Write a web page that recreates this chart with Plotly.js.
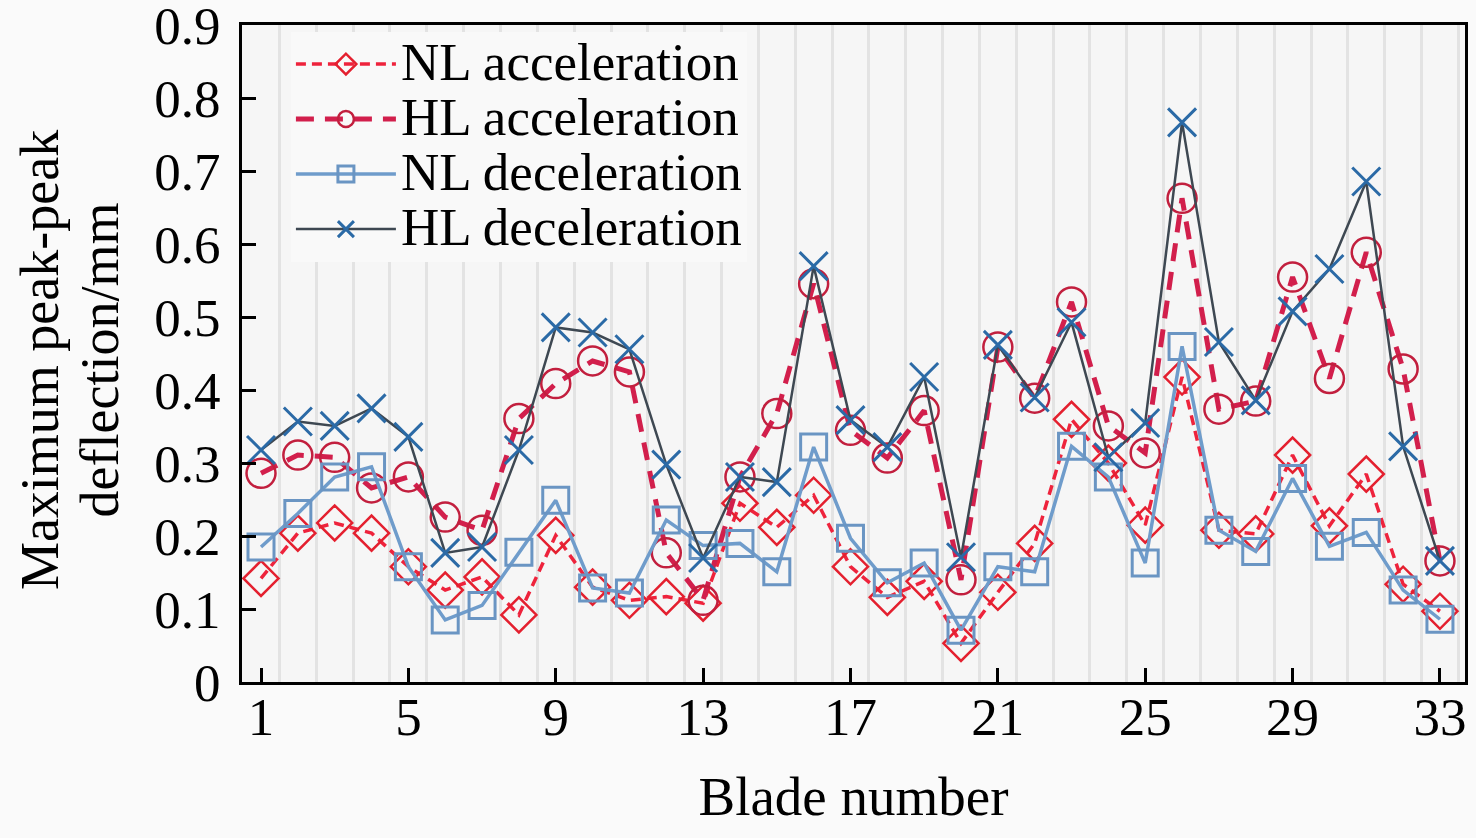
<!DOCTYPE html>
<html>
<head>
<meta charset="utf-8">
<script src="https://cdn.plot.ly/plotly-3.0.1.min.js"></script>
<style>
html,body{margin:0;padding:0;background:#fafafa;}
#chart{width:1476px;height:838px;}
</style>
</head>
<body>
<div id="chart"></div>
<script>
const blades = Array.from({length:33}, (_, i) => i + 1);
const xTickVals = [1,5,9,13,17,21,25,29,33];
const yTickVals = [0,0.1,0.2,0.3,0.4,0.5,0.6,0.7,0.8,0.9];
const yTickText = ['0','0.1','0.2','0.3','0.4','0.5','0.6','0.7','0.8','0.9'];
const seriesNames = ['NL acceleration','HL acceleration','NL deceleration','HL deceleration'];
const yTitleLines = ['Maximum peak-peak','deflection/mm'];
const xTitle = 'Blade number';

const nlAcceleration = [0.142,0.204,0.218,0.204,0.158,0.126,0.144,0.092,0.201,0.130,
                        0.112,0.117,0.108,0.245,0.212,0.256,0.158,0.116,0.138,0.053,
                        0.123,0.190,0.360,0.300,0.215,0.418,0.208,0.203,0.311,0.214,
                        0.285,0.134,0.097];
const hlAcceleration = [0.286,0.311,0.308,0.266,0.281,0.226,0.208,0.361,0.409,0.440,
                        0.425,0.177,0.112,0.281,0.368,0.546,0.345,0.307,0.372,0.140,
                        0.459,0.389,0.521,0.351,0.314,0.663,0.374,0.385,0.555,0.416,
                        0.589,0.429,0.166];
const nlDeceleration = [0.185,0.231,0.281,0.295,0.158,0.085,0.105,0.178,0.249,0.129,
                        0.122,0.222,0.187,0.190,0.151,0.322,0.197,0.136,0.163,0.071,
                        0.158,0.151,0.323,0.281,0.163,0.460,0.208,0.179,0.279,0.186,
                        0.205,0.126,0.086];
const hlDeceleration = [0.318,0.357,0.351,0.375,0.336,0.177,0.185,0.318,0.486,0.479,
                        0.456,0.298,0.170,0.281,0.274,0.570,0.359,0.322,0.418,0.171,
                        0.462,0.390,0.493,0.308,0.355,0.767,0.466,0.386,0.508,0.566,
                        0.686,0.323,0.166];

const FONT = 'Liberation Serif, Times New Roman, serif';
const big = (t, px) => '<span style="font-size:' + px + 'px">' + t + '</span>';

const traces = [
  {
    x: blades, y: nlAcceleration, name: big(seriesNames[0], 53), type: 'scatter', mode: 'lines+markers',
    line: {color: '#ee233c', width: 3.5, dash: '10px,6px'},
    marker: {symbol: 'diamond-open', size: 27, color: '#e4202f', line: {color: '#e4202f', width: 2.5}}
  },
  {
    x: blades, y: hlAcceleration, name: big(seriesNames[1], 53), type: 'scatter', mode: 'lines+markers',
    line: {color: '#d21f4c', width: 5, dash: '18px,11px'},
    marker: {symbol: 'circle-open', size: 29, color: '#c21f3e', line: {color: '#c21f3e', width: 2.5}}
  },
  {
    x: blades, y: nlDeceleration, name: big(seriesNames[2], 53), type: 'scatter', mode: 'lines+markers',
    line: {color: '#6f9ccb', width: 3.5},
    marker: {symbol: 'square-open', size: 26, color: '#6a95c3', line: {color: '#6a95c3', width: 3}}
  },
  {
    x: blades, y: hlDeceleration, name: big(seriesNames[3], 53), type: 'scatter', mode: 'lines+markers',
    line: {color: '#3e4852', width: 2.5},
    marker: {symbol: 'x-thin-open', size: 28, color: '#2b6aa6', line: {color: '#2b6aa6', width: 3}}
  }
];

const layout = {
  width: 1476, height: 838,
  paper_bgcolor: '#fafafa',
  plot_bgcolor: '#f6f6f6',
  margin: {l: 242, r: 11, t: 25, b: 156},
  font: {family: FONT, color: '#000', size: 48},
  showlegend: true,
  legend: {
    x: 0.040, y: 0.99, xanchor: 'left', yanchor: 'top',
    bgcolor: '#f9f9f9', borderwidth: 0,
    font: {family: FONT, size: 40, color: '#000'},
    itemwidth: 100, tracegroupgap: 0
  },
  xaxis: {
    range: [0.484, 33.68],
    tickmode: 'array', tickvals: xTickVals, ticktext: xTickVals.map(String),
    ticks: 'inside', ticklen: 14, tickwidth: 3, tickcolor: '#000',
    showline: true, linecolor: '#000', linewidth: 3, mirror: true,
    showgrid: false, zeroline: false,
    minor: {tick0: 0.5, dtick: 1, showgrid: true, gridcolor: '#e3e3e3', gridwidth: 3, ticks: ''},
    tickfont: {family: FONT, size: 53, color: '#000'},
    ticklabelstandoff: -14,
    title: {text: xTitle, font: {family: FONT, size: 55, color: '#000'}, standoff: 32}
  },
  yaxis: {
    range: [0, 0.9005],
    tickmode: 'array', tickvals: yTickVals, ticktext: yTickText,
    ticks: 'inside', ticklen: 14, tickwidth: 3, tickcolor: '#000',
    showline: true, linecolor: '#000', linewidth: 3, mirror: true,
    showgrid: false, zeroline: false,
    tickfont: {family: FONT, size: 53, color: '#000'},
    ticklabelstandoff: 8,
    ticklabeloverflow: 'allow',
    title: {text: ''}
  },
  annotations: [{
    xref: 'paper', yref: 'paper', x: -0.1406, y: 0.49,
    xanchor: 'center', yanchor: 'middle', showarrow: false, textangle: -90,
    text: big(yTitleLines[0], 54) + '<br>' + big(yTitleLines[1], 54),
    font: {family: FONT, size: 46, color: '#000'}
  }]
};

Plotly.newPlot('chart', traces, layout, {displayModeBar: false, staticPlot: true});
</script>
</body>
</html>
